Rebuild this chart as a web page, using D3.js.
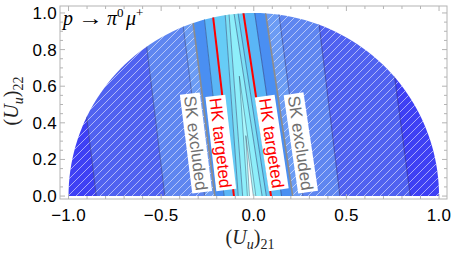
<!DOCTYPE html>
<html>
<head>
<meta charset="utf-8">
<script src="https://cdn.jsdelivr.net/npm/d3@7"></script>
<style>
  body { margin: 0; background: #fff; }
  svg { display: block; }
</style>
</head>
<body>
<script>
// contour edges: x at y=0, x at y=1, line style
const edgeX0   = [-1.30, -0.85, -0.48, -0.265, -0.21, -0.16, -0.107, -0.084, -0.06, 0.045, 0.068, 0.093, 0.15, 0.21, 0.265, 0.465, 0.845, 1.30];
const edgeX1   = [-1.42, -0.97, -0.60, -0.39, -0.334, -0.27, -0.222, -0.155, -0.134, -0.107, -0.085, -0.056, 0.005, 0.064, 0.135, 0.345, 0.715, 1.17];
const edgeKind = ["", "d", "d", "d", "g", "d", "r", "d", "d", "d", "d", "r", "d", "g", "d", "d", "d", ""];
const bandColors = ["#3e40f4", "#5062f0", "#5f86f0", "#6c9cf4", "#4a8ff2", "#5ab6f6", "#66ccf6", "#7cdff4", "#8eeefa",
                    "#7cdff4", "#66ccf6", "#5ab6f6", "#4a8ff2", "#6c9cf4", "#5f86f0", "#5062f0", "#3e40f4"];
const hatched = [true, true, true, true, false, false, false, false, false, false, false, false, false, true, true, true, true];

// narrow spikes near the centre: [left x at y=0, right x at y=0, tip x, tip y]
const spikes = [[-0.031, 0.018, -0.078, 0.655], [-0.02, 0.004, -0.043, 0.33]];
const spikeColors = ["#a8f8fd", "#f4ffff"];

const labels = [
  {text: "SK excluded", x: -0.312, y: 0.29, edge: 4, color: "#707070"},
  {text: "HK targeted", x: -0.178, y: 0.29, edge: 6, color: "#ff0000"},
  {text: "HK targeted", x: 0.097, y: 0.29, edge: 11, color: "#ff0000"},
  {text: "SK excluded", x: 0.254, y: 0.29, edge: 13, color: "#707070"}
];

const xTicks = [-1, -0.5, 0, 0.5, 1];
const xTickLabels = ["\u22121.0", "\u22120.5", "0.0", "0.5", "1.0"];
const yTicks = [0, 0.2, 0.4, 0.6, 0.8, 1];
const yTickLabels = ["0.0", "0.2", "0.4", "0.6", "0.8", "1.0"];

const W = 453, H = 256;
const frame = {left: 60, right: 447, top: 6, bottom: 199};

const x = d3.scaleLinear().domain([-1.046, 1.043]).range([frame.left, frame.right]);
const y = d3.scaleLinear().domain([-0.016, 1.038]).range([frame.bottom, frame.top]);

const svg = d3.select("body").append("svg").attr("width", W).attr("height", H);
const defs = svg.append("defs");

// half disc |U|<=1
const arc = d3.range(0, 181, 2).map(a => [Math.cos(a * Math.PI / 180), Math.sin(a * Math.PI / 180)]);
const line = d3.line().x(d => x(d[0])).y(d => y(d[1]));
defs.append("clipPath").attr("id", "disc")
  .append("path").attr("d", line(arc) + "Z");

const pat = defs.append("pattern").attr("id", "hatch")
  .attr("patternUnits", "userSpaceOnUse").attr("width", 8).attr("height", 8);
pat.append("path").attr("d", "M0,8L8,0M-2,2L2,-2M6,10L10,6")
  .attr("stroke", "#fff").attr("stroke-opacity", 0.55).attr("stroke-width", 1);

const edgeAt = (i, v) => edgeX0[i] + (edgeX1[i] - edgeX0[i]) * v;
const bandPoly = i => [[edgeAt(i, -0.05), -0.05], [edgeAt(i + 1, -0.05), -0.05], [edgeAt(i + 1, 1.1), 1.1], [edgeAt(i, 1.1), 1.1]];

const plot = svg.append("g").attr("clip-path", "url(#disc)");

plot.selectAll("path.band").data(bandColors).join("path")
  .attr("class", "band")
  .attr("d", (c, i) => line(bandPoly(i)) + "Z")
  .attr("fill", c => c)
  .attr("stroke", c => c).attr("stroke-width", 0.5);

plot.selectAll("path.hatch").data(hatched.map((h, i) => [h, i]).filter(d => d[0])).join("path")
  .attr("class", "hatch")
  .attr("d", d => line(bandPoly(d[1])) + "Z")
  .attr("fill", "url(#hatch)");

plot.selectAll("path.spike").data(spikes).join("path")
  .attr("class", "spike")
  .attr("d", s => line([[s[0], -0.05], [s[2], s[3]], [s[1], -0.05]]) + "Z")
  .attr("fill", (s, i) => spikeColors[i])
  .attr("stroke", "rgba(40,60,90,0.5)").attr("stroke-width", 0.8);

const styles = {
  d: {stroke: "rgba(40,40,90,0.45)", width: 1},
  g: {stroke: "#8c8c8c", width: 1.6},
  r: {stroke: "#ff0000", width: 2}
};
const edges = edgeKind.map((k, i) => ({k, i})).filter(e => e.k);
plot.selectAll("path.edge").data(edges).join("path")
  .attr("class", "edge")
  .attr("d", e => line([[edgeAt(e.i, -0.05), -0.05], [edgeAt(e.i, 1.1), 1.1]]))
  .attr("fill", "none")
  .attr("stroke", e => styles[e.k].stroke)
  .attr("stroke-width", e => styles[e.k].width);

// rotated labels along the lines
const lab = svg.selectAll("g.lab").data(labels).join("g")
  .attr("class", "lab")
  .attr("transform", d => {
    const dxp = x(edgeX1[d.edge]) - x(edgeX0[d.edge]);
    const dyp = y(1) - y(0);
    const ang = Math.atan2(-dyp, -dxp) * 180 / Math.PI;
    return `translate(${x(d.x)},${y(d.y)}) rotate(${ang})`;
  });
lab.append("text")
  .attr("text-anchor", "middle").attr("dy", "0.36em")
  .attr("font-family", "Liberation Sans, Arial, sans-serif")
  .attr("font-size", 17)
  .attr("fill", d => d.color)
  .text(d => d.text);
lab.each(function() {
  const g = d3.select(this);
  const b = g.select("text").node().getBBox();
  g.insert("rect", "text")
    .attr("x", b.x - 2).attr("y", -10)
    .attr("width", b.width + 4).attr("height", 20)
    .attr("fill", "#fff");
});

// frame
const frameColor = "#b4b4b4";
svg.append("rect")
  .attr("x", frame.left).attr("y", frame.top)
  .attr("width", frame.right - frame.left).attr("height", frame.bottom - frame.top)
  .attr("fill", "none").attr("stroke", frameColor).attr("stroke-width", 1);

const xMinor = d3.range(-10, 11).map(v => v / 10);
const yMinor = d3.range(0, 21).map(v => v / 20);
const tk = svg.append("g").attr("stroke", frameColor).attr("stroke-width", 1);
xMinor.forEach(v => {
  const L = xTicks.some(t => Math.abs(t - v) < 1e-9) ? 5 : 3;
  tk.append("line").attr("x1", x(v)).attr("x2", x(v)).attr("y1", frame.bottom).attr("y2", frame.bottom - L);
  tk.append("line").attr("x1", x(v)).attr("x2", x(v)).attr("y1", frame.top).attr("y2", frame.top + L);
});
yMinor.forEach(v => {
  const L = yTicks.some(t => Math.abs(t - v) < 1e-9) ? 5 : 3;
  tk.append("line").attr("y1", y(v)).attr("y2", y(v)).attr("x1", frame.left).attr("x2", frame.left + L);
  tk.append("line").attr("y1", y(v)).attr("y2", y(v)).attr("x1", frame.right).attr("x2", frame.right - L);
});

const tickFont = "Liberation Sans, Arial, sans-serif";
svg.append("g").selectAll("text").data(xTicks).join("text")
  .attr("x", d => x(d)).attr("y", 221)
  .attr("text-anchor", "middle")
  .attr("font-family", tickFont).attr("font-size", 17).attr("letter-spacing", 0.3)
  .attr("fill", "#000")
  .text((d, i) => xTickLabels[i]);
svg.append("g").selectAll("text").data(yTicks).join("text")
  .attr("x", 57).attr("y", d => y(d) + 6)
  .attr("text-anchor", "end")
  .attr("font-family", tickFont).attr("font-size", 17).attr("letter-spacing", 0.3)
  .attr("fill", "#000")
  .text((d, i) => yTickLabels[i]);

// axis titles and process label
const serif = "Liberation Serif, Times New Roman, serif";
function uLabel(sel, sub) {
  sel.append("tspan").text("(");
  sel.append("tspan").attr("font-style", "italic").text("U");
  sel.append("tspan").attr("font-style", "italic").attr("font-size", 14).attr("dy", 4.5).text("u");
  sel.append("tspan").attr("dy", -4.5).text(")");
  sel.append("tspan").attr("font-size", 14).attr("dy", 4.5).text(sub);
}
const xt = svg.append("text")
  .attr("x", 250).attr("y", 244).attr("text-anchor", "middle")
  .attr("font-family", serif).attr("font-size", 20).attr("fill", "#222");
uLabel(xt, "21");
const yt = svg.append("text")
  .attr("transform", "translate(18,101) rotate(-90)").attr("text-anchor", "middle")
  .attr("font-family", serif).attr("font-size", 20).attr("fill", "#222");
uLabel(yt, "22");

const pt = svg.append("text")
  .attr("y", 25)
  .attr("font-family", serif).attr("font-size", 20).attr("fill", "#000");
pt.append("tspan").attr("x", 63).attr("font-style", "italic").text("p");
pt.append("tspan").attr("x", 107).attr("font-style", "italic").text("\u03c0");
pt.append("tspan").attr("font-size", 13).attr("dy", -8).text("0");
pt.append("tspan").attr("x", 126).attr("font-style", "italic").attr("dy", 8).text("\u03bc");
pt.append("tspan").attr("font-size", 13).attr("dy", -8).text("+");
svg.append("text")
  .attr("x", 78).attr("y", 25)
  .attr("font-family", serif).attr("font-size", 20).attr("fill", "#000")
  .attr("textLength", 25).attr("lengthAdjust", "spacingAndGlyphs")
  .text("\u2192");
</script>
</body>
</html>
